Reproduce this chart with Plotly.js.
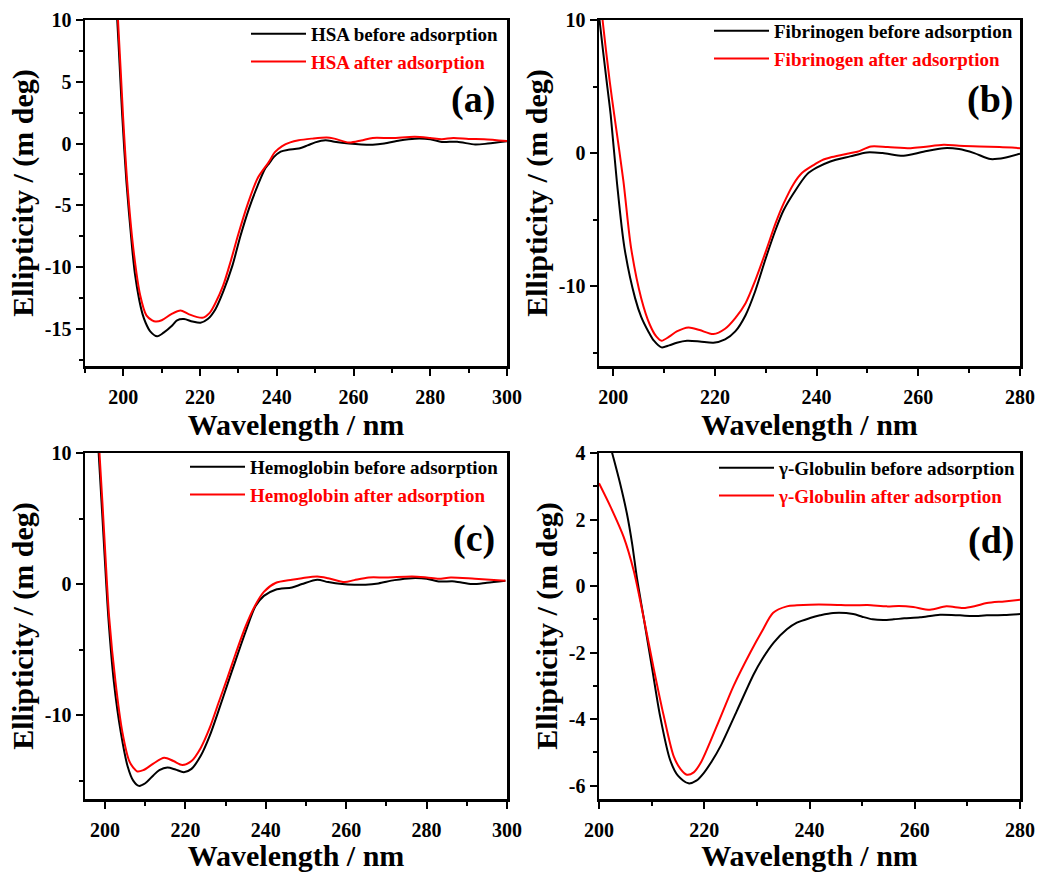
<!DOCTYPE html>
<html><head><meta charset="utf-8">
<script src="https://cdn.plot.ly/plotly-3.0.1.min.js"></script>
<style>html,body{margin:0;padding:0;background:#fff}#chart{width:1039px;height:872px}</style>
</head><body><div id="chart"></div>
<script>
// ---------- data ----------
// (a) HSA
const wlA_before = [197.5,198.4,199,199.7,200.8,202.3,203,204.1,205,205.8,207,208.8,210.5,212.8,214,215.8,218,220.1,222,224,226,228.4,230.5,232.7,235,237,238,239.2,241,243,245.7,248,250,252.7,255,258.8,262,265,268,272,276,280,283,287,291.7,295,300];
const cdA_before = [14,10,6.5,2.3,-3.1,-8.5,-10.5,-12.6,-13.8,-14.5,-15.2,-15.6,-15.3,-14.7,-14.3,-14.2,-14.4,-14.5,-14.2,-13.4,-12,-9.9,-7.5,-5.3,-3.4,-2.0,-1.6,-1.1,-0.65,-0.5,-0.4,-0.15,0.1,0.27,0.15,0,-0.08,-0.1,0,0.25,0.4,0.35,0.13,0.15,-0.08,0,0.19];
const wlA_after = [197.6,198.6,199.9,201,202.6,204.4,206,207.5,208.4,210,212.5,214.9,217,220.6,222.5,224,226,228,230,232.3,235,237.9,239.5,241.4,243.5,245.7,249,253,255,258.8,262,265,270,276,280,283,286,290,294,300];
const cdA_after = [14,10,2.3,-3.1,-8.5,-12.3,-13.9,-14.3,-14.4,-14.3,-13.8,-13.5,-13.8,-14.1,-13.7,-12.9,-11.5,-9.5,-7.3,-5.0,-2.8,-1.5,-0.7,-0.2,0.1,0.27,0.4,0.5,0.4,0.08,0.25,0.46,0.45,0.55,0.45,0.35,0.46,0.38,0.35,0.2];

// (b) Fibrinogen
const wlB_before = [196.3,197.3,198.7,199.5,200.7,202.2,204.3,205.5,206.9,208,209.5,211,212.5,214.5,217,219.7,222,224,226,227.9,230,231.9,233.5,235.5,238.1,240,242.7,246.6,249.9,253,257.1,261,265,268,271,274.2,277,280];
const cdB_before = [14,10,5.4,2.87,-2.1,-7.1,-10.9,-12.3,-13.4,-14.1,-14.6,-14.45,-14.25,-14.1,-14.15,-14.25,-14.0,-13.4,-12.2,-10.4,-7.9,-5.8,-4.3,-3.0,-1.6,-1.1,-0.63,-0.25,0.05,0.0,-0.2,0.1,0.37,0.3,0.0,-0.45,-0.35,-0.05];
const wlB_after = [196.9,197.9,199.3,200.2,202,203.5,205.5,207.2,208.5,209.5,211,212.5,214.8,217,219.7,222,224,226,227.9,230,231.9,233.5,235.5,237.1,239.4,241,243,246,248,250.7,254,258.5,261,265,268,272,276,280];
const cdB_after = [14,10,5.4,2.87,-2.1,-7.1,-10.9,-12.9,-13.8,-14.1,-13.8,-13.4,-13.1,-13.3,-13.6,-13.2,-12.4,-11.3,-9.6,-7.4,-5.3,-3.8,-2.3,-1.5,-0.9,-0.55,-0.3,-0.05,0.1,0.5,0.45,0.37,0.45,0.62,0.55,0.5,0.45,0.37];

// (c) Hemoglobin
const wlC_before = [197.5,198.4,199.8,200.8,202.2,203.9,205.6,207,208.4,210,212,213.5,215.5,217.5,219.6,221.5,223.8,226,228.3,230.5,232.5,235,237.4,239.5,242.4,246.5,249,252.8,255.5,259,262,264.8,268,272,276.4,280,283,287,291.3,295,299.6];
const cdC_before = [14,10,2.6,-2.5,-7.5,-11.3,-13.9,-15.0,-15.4,-15.2,-14.6,-14.2,-14.0,-14.15,-14.35,-14.1,-13.1,-11.6,-9.6,-7.6,-5.8,-3.6,-1.7,-0.9,-0.43,-0.26,0.0,0.33,0.15,0,-0.05,-0.05,0.05,0.3,0.45,0.4,0.2,0.2,0,0.1,0.25];
const wlC_after = [197.6,198.6,200,201,202.6,204.3,206,207,208,209.5,212,214.7,217,219.2,221.5,223.8,226,228.3,230.5,232.5,235,237.4,239.5,242.4,246.5,249,252.8,255.5,259.6,262,265.6,270,276.4,280,283,286,292,299.6];
const cdC_after = [14,10,2.6,-2.5,-7.5,-11.3,-13.5,-14.0,-14.3,-14.2,-13.7,-13.25,-13.5,-13.8,-13.5,-12.5,-11.0,-9.0,-7.1,-5.3,-3.2,-1.6,-0.6,0.08,0.33,0.45,0.58,0.45,0.15,0.3,0.5,0.5,0.58,0.5,0.4,0.5,0.4,0.25];

// (d) gamma-Globulin
const wlD_before = [201.5,202.5,204,205.3,206.3,207.2,208.5,210.1,211.6,213.5,215,217,218.5,219.9,221.5,223.1,226.2,229.4,231,233.2,235.7,237.6,240.1,242,244.5,248.3,250,252,254,256,258,261,264.8,268.6,271,273.7,277,280];
const cdD_before = [4.6,4,3.09,2.18,1.27,0.25,-0.96,-2.48,-3.9,-5.22,-5.7,-5.93,-5.85,-5.62,-5.25,-4.81,-3.75,-2.65,-2.2,-1.7,-1.3,-1.1,-0.96,-0.88,-0.81,-0.84,-0.92,-1.0,-1.02,-1.0,-0.97,-0.94,-0.86,-0.88,-0.9,-0.88,-0.87,-0.84];
const wlD_after = [200,202.2,204.7,206.6,208.5,210.4,212.3,214.2,215.5,216.7,218,219.3,222.4,225.6,228.8,231,233.1,235.7,237.6,240.1,244,248.3,251,254.7,257,259.7,262.9,266,269.2,271.5,273.7,277,280];
const cdD_after = [3.09,2.38,1.47,0.46,-0.96,-2.48,-3.9,-5.12,-5.5,-5.67,-5.6,-5.32,-4.2,-2.99,-1.98,-1.35,-0.8,-0.61,-0.58,-0.56,-0.56,-0.58,-0.57,-0.61,-0.6,-0.63,-0.71,-0.61,-0.66,-0.6,-0.51,-0.46,-0.41];

// series names
const namesBefore = ['HSA before adsorption','Fibrinogen before adsorption','Hemoglobin before adsorption','γ-Globulin before adsorption'];
const namesAfter  = ['HSA after adsorption','Fibrinogen after adsorption','Hemoglobin after adsorption','γ-Globulin after adsorption'];
const panelLabels = ['(a)','(b)','(c)','(d)'];

// tick labels
const xTicksA = [200,220,240,260,280,300];
const xTicksB = [200,220,240,260,280];
const yTicksA = [10,5,0,-5,-10,-15];
const yTicksBC = [10,0,-10];
const yTicksD = [4,2,0,-2,-4,-6];
const lbl = v => String(v);

// ---------- figure ----------
const FONT = 'Liberation Serif, Times New Roman, serif';
const W = 1039, H = 872;
const px = x => x / W, py = y => 1 - y / H;

const before = [[wlA_before,cdA_before],[wlB_before,cdB_before],[wlC_before,cdC_before],[wlD_before,cdD_before]];
const after  = [[wlA_after,cdA_after],[wlB_after,cdB_after],[wlC_after,cdC_after],[wlD_after,cdD_after]];

const traces = [];
for (let i = 0; i < 4; i++) {
  const ax = i === 0 ? '' : String(i + 1);
  const lg = i === 0 ? 'legend' : 'legend' + (i + 1);
  traces.push({x: before[i][0], y: before[i][1], type: 'scatter', mode: 'lines',
    line: {color: '#000000', width: 2, shape: 'spline', smoothing: 0.8},
    name: namesBefore[i], xaxis: 'x' + ax, yaxis: 'y' + ax, legend: lg});
  traces.push({x: after[i][0], y: after[i][1], type: 'scatter', mode: 'lines',
    line: {color: '#ff0000', width: 2, shape: 'spline', smoothing: 0.8},
    name: '<span style="color:#ff0000">' + namesAfter[i] + '</span>', xaxis: 'x' + ax, yaxis: 'y' + ax, legend: lg});
}

function xAxis(domain, range, ticks, anchor) {
  return {domain: domain, range: range, anchor: anchor,
    tickmode: 'array', tickvals: ticks, ticktext: ticks.map(lbl),
    showline: true, linewidth: 2.5, linecolor: '#000', mirror: true,
    ticks: 'outside', ticklen: 7, tickwidth: 2, tickcolor: '#000', ticklabelstandoff: 4,
    minor: {tickmode: 'linear', tick0: 200, dtick: 10, ticks: 'outside', ticklen: 4, tickwidth: 2, tickcolor: '#000'},
    showgrid: false, zeroline: false,
    tickfont: {family: FONT, size: 20, color: '#000', weight: 'bold'},
    title: {text: 'Wavelength / nm', standoff: 6, font: {family: FONT, size: 30, color: '#000', weight: 'bold'}}};
}
function yAxis(domain, range, ticks, minorStep, anchor) {
  return {domain: domain, range: range, anchor: anchor,
    tickmode: 'array', tickvals: ticks, ticktext: ticks.map(lbl),
    showline: true, linewidth: 2.5, linecolor: '#000', mirror: true,
    ticks: 'outside', ticklen: 7, tickwidth: 2, tickcolor: '#000', ticklabelstandoff: 0,
    minor: {tickmode: 'linear', tick0: 0, dtick: minorStep, ticks: 'outside', ticklen: 4, tickwidth: 2, tickcolor: '#000'},
    showgrid: false, zeroline: false,
    tickfont: {family: FONT, size: 20, color: '#000', weight: 'bold'},
    title: {text: 'Ellipticity / (m deg)', standoff: 3, font: {family: FONT, size: 30, color: '#000', weight: 'bold'}}};
}

const colL = [px(85), px(507)], colR = [px(599), px(1020)];
const rowT = [py(366), py(20)], rowB = [py(799), py(453)];

function legend(x, y) {
  return {x: px(x), y: py(y), xanchor: 'left', yanchor: 'top', bgcolor: 'rgba(0,0,0,0)', borderwidth: 0,
    itemwidth: 55, tracegroupgap: 0,
    font: {family: FONT, size: 19, color: '#000', weight: 'bold'}};
}

const annotations = [
  [473, 99], [990, 99], [474, 538], [991, 540]
].map((p, i) => ({xref: 'paper', yref: 'paper', x: px(p[0]), y: py(p[1]), xanchor: 'center', yanchor: 'middle',
  text: panelLabels[i], showarrow: false, font: {family: FONT, size: 38, color: '#000', weight: 'bold'}}));

const layout = {
  width: W, height: H, margin: {l: 0, r: 0, t: 0, b: 0},
  paper_bgcolor: '#fff', plot_bgcolor: '#fff', showlegend: true,
  xaxis:  xAxis(colL, [190, 300], xTicksA, 'y'),
  yaxis:  yAxis(rowT, [-18, 10], yTicksA, 2.5, 'x'),
  xaxis2: xAxis(colR, [197.2, 280], xTicksB, 'y2'),
  yaxis2: yAxis(rowT, [-16, 10], yTicksBC, 5, 'x2'),
  xaxis3: xAxis(colL, [195, 300], xTicksA, 'y3'),
  yaxis3: yAxis(rowB, [-16.4, 10], yTicksBC, 5, 'x3'),
  xaxis4: xAxis(colR, [200, 280], xTicksB, 'y4'),
  yaxis4: yAxis(rowB, [-6.4, 4], yTicksD, 1, 'x4'),
  legend:  legend(246, 15),
  legend2: legend(709, 12),
  legend3: legend(185, 448),
  legend4: legend(714, 449),
  annotations: annotations
};

Plotly.newPlot('chart', traces, layout, {displayModeBar: false, staticPlot: true});
</script></body></html>
